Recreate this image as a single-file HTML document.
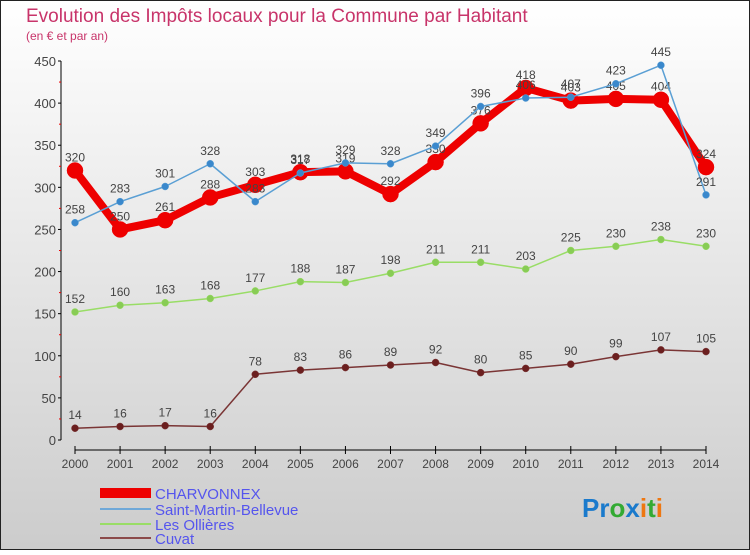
<!DOCTYPE html>
<html><head><meta charset="utf-8"><style>
body{margin:0;width:750px;height:550px;overflow:hidden;font-family:"Liberation Sans",sans-serif}
svg text{font-family:"Liberation Sans",sans-serif}
</style></head><body>
<svg id="c" width="750" height="550">
<defs><linearGradient id="bg" x1="0" y1="0" x2="0" y2="1"><stop offset="0" stop-color="#ffffff"/><stop offset="1" stop-color="#cccccc"/></linearGradient></defs>
<rect x="0.5" y="0.5" width="749" height="549" fill="url(#bg)" stroke="#222"/>
<text x="26" y="22" font-size="19" fill="#c8346a">Evolution des Impôts locaux pour la Commune par Habitant</text>
<text x="26" y="40" font-size="12" fill="#c8346a">(en € et par an)</text>
<g id="axes"></g><g id="series"></g>
<g>
<rect x="100" y="488" width="51" height="10" fill="#e00"/>
<text x="155" y="499" font-size="15" fill="#5555ee">CHARVONNEX</text>
<line x1="100" y1="509" x2="151" y2="509" stroke="#6fa8d8" stroke-width="2"/>
<text x="155" y="515" font-size="15" fill="#5555ee">Saint-Martin-Bellevue</text>
<line x1="100" y1="524" x2="151" y2="524" stroke="#99dd66" stroke-width="2"/>
<text x="155" y="530" font-size="15" fill="#5555ee">Les Ollières</text>
<line x1="100" y1="538" x2="151" y2="538" stroke="#8b4a4a" stroke-width="2"/>
<text x="155" y="544" font-size="15" fill="#5555ee">Cuvat</text>
</g>
<text x="582" y="517" font-size="26" font-weight="bold"><tspan fill="#1a7acc">Pr</tspan><tspan fill="#33aa33">o</tspan><tspan fill="#1a7acc">x</tspan><tspan fill="#ee7711">i</tspan><tspan fill="#33aa33">t</tspan><tspan fill="#ee7711">i</tspan></text>
</svg>
<script>
const years=[2000,2001,2002,2003,2004,2005,2006,2007,2008,2009,2010,2011,2012,2013,2014];
const yTicks=[0,50,100,150,200,250,300,350,400,450];
const charvonnex=[320,250,261,288,303,318,319,292,330,376,418,403,405,404,324];
const saintMartin=[258,283,301,328,283,317,329,328,349,396,406,407,423,445,291];
const ollieres=[152,160,163,168,177,188,187,198,211,211,203,225,230,238,230];
const cuvat=[14,16,17,16,78,83,86,89,92,80,85,90,99,107,105];
const NS="http://www.w3.org/2000/svg";
const xs=i=>75+i*(706-75)/(years.length-1);
const ys=v=>440-v*(440-61)/450;
function mk(p,t,a){const e=document.createElementNS(NS,t);for(const k in a)e.setAttribute(k,a[k]);p.appendChild(e);return e;}
const ax=document.getElementById('axes');
const yl=mk(ax,'line',{x1:61,y1:ys(450),x2:61,y2:ys(0),stroke:'#000'});


const xl=mk(ax,'line',{x1:75,y1:450,x2:706,y2:450,stroke:'#000'});


yTicks.forEach(v=>{
 mk(ax,'line',{x1:58,y1:ys(v),x2:61,y2:ys(v),stroke:'#000'});
 if(v<450) mk(ax,'line',{x1:59,y1:ys(v+25),x2:61,y2:ys(v+25),stroke:'#e00'});
 const t=mk(ax,'text',{x:56,y:ys(v)+5,'font-size':13,'text-anchor':'end',fill:'#444'});
 t.textContent=v;
 
 
});
years.forEach((y,i)=>{
 mk(ax,'line',{x1:xs(i),y1:446,x2:xs(i),y2:454,stroke:'#000'});
 const t=mk(ax,'text',{x:xs(i),y:468,'font-size':12,'text-anchor':'middle',fill:'#444'});
 t.textContent=y;
 
 
});
const sg=document.getElementById('series');
function draw(data,name,color,w,r,dot,lab){
 const g=mk(sg,'g',{});
 
 
 mk(g,'polyline',{points:data.map((v,i)=>xs(i)+','+ys(v)).join(' '),fill:'none',stroke:color,'stroke-width':w,'stroke-linejoin':'round'});
 data.forEach((v,i)=>{
  const c=mk(g,'circle',{cx:xs(i),cy:ys(v),r:r,fill:dot,stroke:color,'stroke-width':0.5});
  
  
  const t=mk(g,'text',{x:xs(i),y:ys(v)-9,'font-size':12,'text-anchor':'middle',fill:'#444'});
  t.textContent=v;
  
  
 });
}
draw(cuvat,'cuvat','#7a3535',1.5,3.5,'#6b1f1f');
draw(ollieres,'les-ollieres','#99dd66',1.5,3.5,'#88cc55');
draw(charvonnex,'charvonnex','#ee0000',8,8,'#ee0000');
draw(saintMartin,'saint-martin-bellevue','#5a9fd4',1.5,3.5,'#3a88cc');
</script>
</body></html>
